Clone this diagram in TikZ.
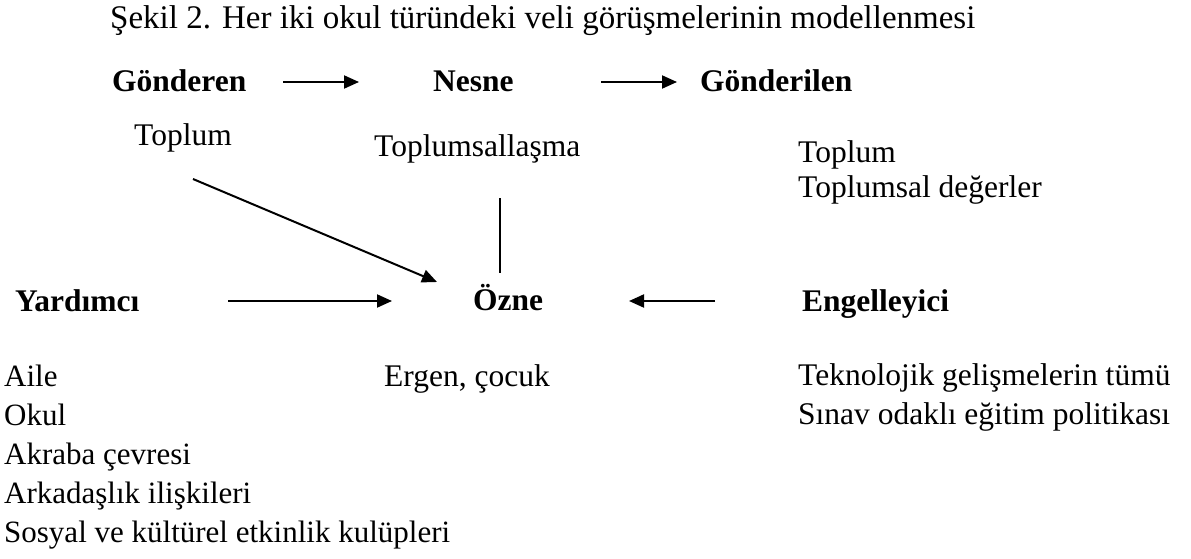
\documentclass[tikz,border=0pt]{standalone}
\usepackage{fontspec}
\setmainfont{Liberation Serif}
\usetikzlibrary{arrows.meta}
\tikzset{
  txt/.style={anchor=base west, inner sep=0pt, align=left,
    font=\fontsize{31.5}{39}\selectfont},
  hd/.style={txt, font=\fontsize{31.5}{39}\selectfont\bfseries},
  arr/.style={-{Triangle[length=15pt,width=13pt]}, line width=2pt},
  ln/.style={line width=2pt},
}
\begin{document}
\begin{tikzpicture}[x=1pt,y=-1pt]
\useasboundingbox (0,0) rectangle (1191,559);
% caption
\node[txt, font=\fontsize{33}{33}\selectfont] (cap) at (110,29)
  {Şekil 2. Her iki okul türündeki veli görüşmelerinin modellenmesi};
% top row
\node[hd] (gonderen) at (112,92) {Gönderen};
\node[hd] (nesne) at (433,92) {Nesne};
\node[hd] (gonderilen) at (700,92) {Gönderilen};
\node[txt] (toplum) at (134,146) {Toplum};
\node[txt] (toplsl) at (374,157) {Toplumsallaşma};
\node[txt, font=\fontsize{31.5}{35}\selectfont] (degerler) at (798,197) {Toplum\\Toplumsal değerler};
% middle row
\node[hd] (yardimci) at (15,311) {Yardımcı};
\node[hd] (ozne) at (473,310) {Özne};
\node[hd] (engel) at (802,311) {Engelleyici};
% lists (base is the last line)
\node[txt, font=\fontsize{31}{39}\selectfont] (aile) at (4,542)
  {Aile\\Okul\\Akraba çevresi\\Arkadaşlık ilişkileri\\Sosyal ve kültürel etkinlik kulüpleri};
\node[txt] (ergen) at (384,386) {Ergen, çocuk};
\node[txt] (tekno) at (798,424)
  {Teknolojik gelişmelerin tümü\\Sınav odaklı eğitim politikası};
% arrow ends
\coordinate (g1) at (283,82);  \coordinate (g2) at (359,82);
\coordinate (n1) at (601,82);  \coordinate (n2) at (677,82);
\coordinate (t1) at (193,179); \coordinate (t2) at (437,282);
\coordinate (s1) at (500,198); \coordinate (s2) at (500,273);
\coordinate (y1) at (228,301); \coordinate (y2) at (392,301);
\coordinate (e1) at (715,301); \coordinate (e2) at (629,301);
\draw[arr] (g1) -- (g2);
\draw[arr] (n1) -- (n2);
\draw[arr] (t1) -- (t2);
\draw[ln] (s1) -- (s2);
\draw[arr] (y1) -- (y2);
\draw[arr] (e1) -- (e2);
\end{tikzpicture}
\end{document}
